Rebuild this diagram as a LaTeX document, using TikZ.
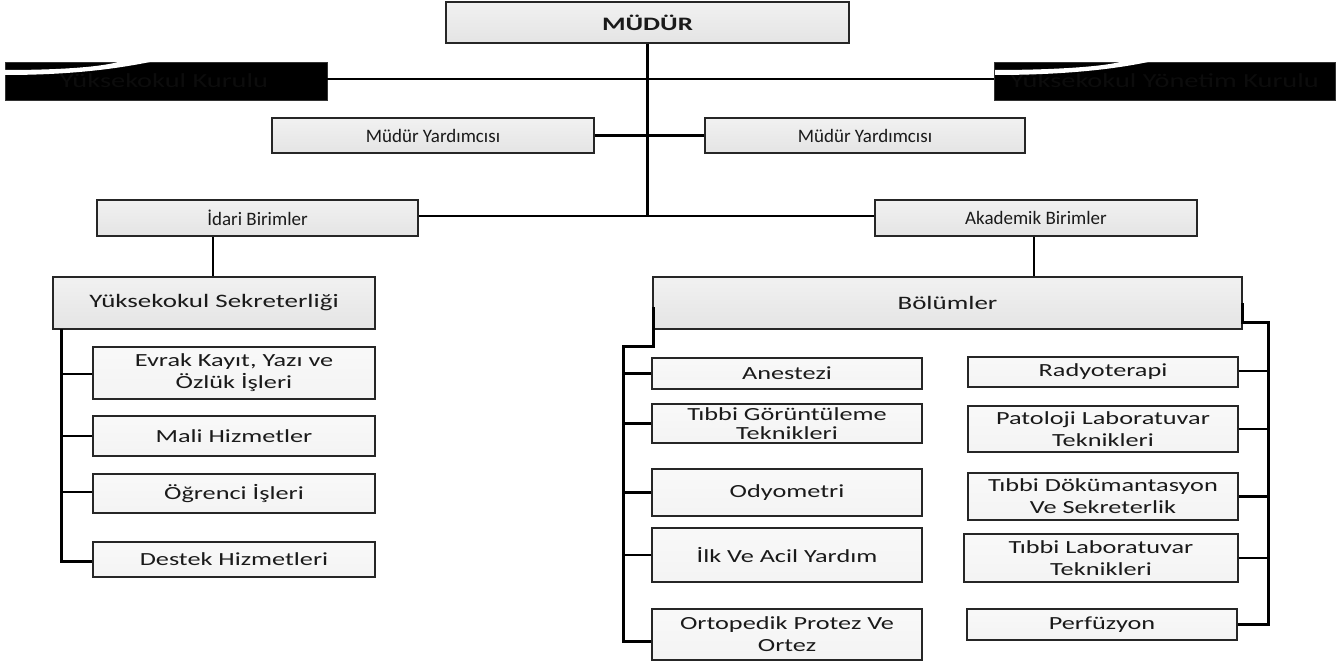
\documentclass[tikz,border=0pt]{standalone}
\usepackage{fontspec}
\setmainfont{Carlito}
\newfontfamily\widefont[FakeStretch=1.42]{Carlito}
\usetikzlibrary{calc}
\definecolor{txt}{HTML}{1A1A1A}
\definecolor{bartxt}{HTML}{0C0C0C}
\tikzset{
  base/.style={draw=black!85, line width=1.2pt, inner sep=2pt, align=center, text=txt},
  upper/.style={base, top color=gray!11, bottom color=gray!21, font=\fontsize{19}{20}\selectfont},
  leaf/.style={base, top color=gray!5, bottom color=gray!9, font=\widefont\fontsize{18.5}{22}\selectfont},
  bar/.style={fill=black, draw=black!80, line width=0.8pt, inner sep=0pt, text=bartxt, font=\widefont\fontsize{20}{21}\selectfont},
  conn/.style={line width=2.2pt, black},
  tree/.style={line width=3pt, black},
}
\begin{document}
\begin{tikzpicture}[x=1pt, y=-1pt]
\useasboundingbox (0,0) rectangle (1342,666);
\fill[white] (0,0) rectangle (1342,666);

% top
\node[upper, minimum width=403, minimum height=41, font=\widefont\bfseries\fontsize{19}{20}\selectfont] (mudur) at (647.5,22.5) {MÜDÜR};

% black bars
\node[bar, minimum width=322, minimum height=38] (kurul) at (166,81) {\hspace*{-4pt}Yüksekokul Kurulu};
\node[bar, minimum width=341, minimum height=38] (ykurul) at (1164.5,81) {Yüksekokul Yönetim Kurulu};
\fill[white] (5,70) .. controls (60,70) and (100,67) .. (118,62) -- (150,62) .. controls (115,69) and (70,75) .. (5,75) -- cycle;
\fill[white] (995,70) .. controls (1050,70) and (1100,67) .. (1120,62) -- (1148,62) .. controls (1115,69) and (1065,75) .. (995,75) -- cycle;

% deputies
\node[upper, minimum width=322, minimum height=35] (my1) at (433,135.5) {Müdür Yardımcısı};
\node[upper, minimum width=320, minimum height=35] (my2) at (865,135.5) {Müdür Yardımcısı};

% units
\node[upper, minimum width=321, minimum height=36] (idari) at (257.5,218) {İdari Birimler};
\node[upper, minimum width=322, minimum height=36] (akad) at (1036,218) {Akademik Birimler};

\node[upper, minimum width=322, minimum height=52, font=\widefont\fontsize{19}{20}\selectfont] (sekr) at (214,303) {Yüksekokul Sekreterliği};
\node[upper, minimum width=589, minimum height=52, font=\widefont\fontsize{19}{20}\selectfont] (bol) at (947.5,303) {Bölümler};

% left leaves
\node[leaf, minimum width=282, minimum height=52] (evrak) at (234,373) {Evrak Kayıt, Yazı ve\\Özlük İşleri};
\node[leaf, minimum width=282, minimum height=40] (mali) at (234,436) {Mali Hizmetler};
\node[leaf, minimum width=282, minimum height=39] (ogr) at (234,493.5) {Öğrenci İşleri};
\node[leaf, minimum width=282, minimum height=35] (destek) at (234,559.5) {Destek Hizmetleri};

% middle leaves
\node[leaf, minimum width=270, minimum height=31] (anes) at (787,373.5) {Anestezi};
\node[leaf, minimum width=270, minimum height=39, font=\widefont\fontsize{18.5}{19.5}\selectfont] (tgt) at (787,423.5) {Tıbbi Görüntüleme\\Teknikleri};
\node[leaf, minimum width=270, minimum height=47] (odyo) at (787,492.5) {Odyometri};
\node[leaf, minimum width=270, minimum height=54] (ilk) at (787,555) {İlk Ve Acil Yardım};
\node[leaf, minimum width=270, minimum height=51] (orto) at (787,634.5) {Ortopedik Protez Ve\\Ortez};

% right leaves
\node[leaf, minimum width=270, minimum height=30] (rad) at (1103,372) {Radyoterapi};
\node[leaf, minimum width=270, minimum height=46] (pat) at (1103,429) {Patoloji Laboratuvar\\Teknikleri};
\node[leaf, minimum width=270, minimum height=47] (tdok) at (1103,496.5) {Tıbbi Dökümantasyon\\Ve Sekreterlik};
\node[leaf, minimum width=274, minimum height=48] (tlab) at (1101,558) {Tıbbi Laboratuvar\\Teknikleri};
\node[leaf, minimum width=270, minimum height=31] (perf) at (1102,624.5) {Perfüzyon};

% upper connectors
\coordinate (trunk) at (mudur.south |- 0,216);
\draw[conn] (mudur.south) -- (trunk);
\draw[conn] (kurul.east |- 0,79) -- (ykurul.west |- 0,79);
\draw[conn] (my1.east) -- (my2.west);
\draw[conn] (idari.east |- 0,216) -- (akad.west |- 0,216);
\draw[conn] (sekr.north -| 213,0) -- (idari.south -| 213,0);
\draw[conn] (bol.north -| 1034,0) -- (akad.south -| 1034,0);

% left tree
\coordinate (lt) at (61,329);
\coordinate (lb) at (61,561);
\draw[tree] (lt) -- (lb) -- (destek.west |- lb);
\draw[conn] (evrak.west |- 0,374) -- (lt |- 0,374);
\draw[conn] (mali.west) -- (mali.west -| lt);
\draw[conn] (ogr.west |- 0,492) -- (lt |- 0,492);

% Bolumler left tree
\coordinate (bl0) at (653,307);
\coordinate (bl1) at (653,346);
\coordinate (bl2) at (623,346);
\coordinate (bl3) at (623,641);
\draw[tree] (bl0) -- (bl1) -- (bl2) -- (bl3) -- (orto.west |- bl3);
\draw[conn] (anes.west) -- (anes.west -| bl2);
\draw[conn] (tgt.west) -- (tgt.west -| bl2);
\draw[conn] (odyo.west) -- (odyo.west -| bl2);
\draw[conn] (ilk.west) -- (ilk.west -| bl2);

% Bolumler right tree
\coordinate (br0) at (1242,303);
\coordinate (br1) at (1242,322);
\coordinate (br2) at (1268,322);
\coordinate (br3) at (1268,624);
\draw[tree] (br0) -- (br1) -- (br2) -- (br3) -- (perf.east |- br3);
\draw[conn] (rad.east |- 0,371) -- (br2 |- 0,371);
\draw[conn] (pat.east) -- (pat.east -| br2);
\draw[conn] (tdok.east) -- (tdok.east -| br2);
\draw[conn] (tlab.east) -- (tlab.east -| br2);
\end{tikzpicture}
\end{document}
